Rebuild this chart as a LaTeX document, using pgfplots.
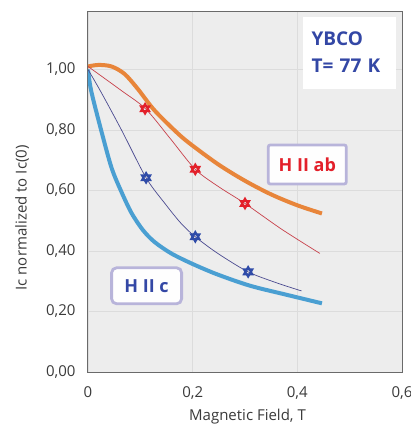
\documentclass[border=0pt]{standalone}
\usepackage{pgfplots}
\pgfplotsset{compat=1.18}
\usepackage{fontspec}
\setmainfont{Open Sans}
\definecolor{bgc}{HTML}{EDEDED}
\definecolor{gridc}{HTML}{DCDCDC}
\definecolor{axc}{HTML}{6A6A6A}
\definecolor{tickc}{HTML}{3A3A3A}
\definecolor{orangec}{HTML}{E8853A}
\definecolor{lbluec}{HTML}{4A9FD2}
\definecolor{redm}{HTML}{E3202A}
\definecolor{bluem}{HTML}{2F4BA8}
\definecolor{redl}{HTML}{C8404A}
\definecolor{bluel}{HTML}{4A4A90}
\definecolor{boxc}{HTML}{B8B4DA}
\definecolor{txtb}{HTML}{3347A5}
\begin{document}
\begin{tikzpicture}
\useasboundingbox (-88pt,-56pt) rectangle (323pt,372pt);
\begin{axis}[
    scale only axis,
    width=314pt, height=360pt,
    xmin=0, xmax=0.6, ymin=0, ymax=1.19,
    axis background/.style={fill=bgc},
    grid=major,
    major grid style={gridc, line width=0.8pt},
    axis line style={axc, line width=1pt},
    tick style={draw=none},
    xtick={0,0.2,0.4,0.6},
    ytick={0,0.2,0.4,0.6,0.8,1.0},
    tick label style={font=\fontsize{15}{17}\selectfont, text=tickc},
    /pgf/number format/assume math mode=true,
    xticklabel style={/pgf/number format/.cd, fixed, precision=1, use comma},
    yticklabel style={/pgf/number format/.cd, fixed, fixed zerofill, precision=2, use comma},
    yticklabel shift=9pt,
    xticklabel shift=11pt,
    xlabel={Magnetic Field, T},
    ylabel={Ic normalized to Ic(0)},
    label style={font=\fontsize{15}{17}\selectfont, text=tickc},
    xlabel style={at={(axis description cs:0.508,-0.125)}, anchor=center},
    ylabel style={at={(axis description cs:-0.21,0.428)}, anchor=center},
]
% thick model curves
\addplot[orangec, line width=4pt, smooth, tension=0.5] coordinates {
    (0,1.01) (0.02,1.015) (0.045,1.01) (0.07,0.985) (0.0955,0.935)
    (0.127,0.865) (0.172,0.788) (0.20,0.748) (0.25,0.685)
    (0.30,0.632) (0.35,0.587) (0.40,0.551) (0.447,0.524)
};
\addplot[lbluec, line width=4pt, smooth, tension=0.5] coordinates {
    (0,1.0) (0.006,0.93) (0.025,0.80) (0.045,0.675) (0.064,0.595)
    (0.083,0.526) (0.105,0.469) (0.127,0.43) (0.159,0.392)
    (0.20,0.357) (0.248,0.322) (0.31,0.285) (0.38,0.255) (0.447,0.227)
};
% thin fit lines
\addplot[redl, line width=0.7pt, smooth, tension=0.5] coordinates {
    (0,1.01) (0.064,0.93) (0.11,0.87) (0.157,0.772) (0.205,0.67)
    (0.25,0.612) (0.30,0.557) (0.37,0.472) (0.443,0.392)
};
\addplot[bluel, line width=0.7pt, smooth, tension=0.5] coordinates {
    (0,1.0) (0.025,0.925) (0.064,0.80) (0.111,0.642) (0.147,0.557)
    (0.178,0.491) (0.205,0.447) (0.248,0.392) (0.306,0.331)
    (0.36,0.295) (0.408,0.268)
};
% measured points (hexagram marks)
\addplot[only marks, redm, mark=triangle, mark size=4.8pt,
    mark options={line width=2pt}] coordinates {
    (0.109,0.87) (0.205,0.67) (0.30,0.557)
};
\addplot[only marks, redm, mark=triangle, mark size=4.8pt,
    mark options={line width=2pt, rotate=180}] coordinates {
    (0.109,0.87) (0.205,0.67) (0.30,0.557)
};
\addplot[only marks, bluem, mark=triangle, mark size=4.8pt,
    mark options={line width=2pt}] coordinates {
    (0.111,0.642) (0.205,0.447) (0.306,0.331)
};
\addplot[only marks, bluem, mark=triangle, mark size=4.8pt,
    mark options={line width=2pt, rotate=180}] coordinates {
    (0.111,0.642) (0.205,0.447) (0.306,0.331)
};
% annotation boxes
\node[fill=white, inner sep=0pt, minimum width=93pt, minimum height=72pt,
    text=txtb, font=\bfseries\fontsize{19}{27}\selectfont, align=left,
    text width=76pt] at (axis cs:0.4997,1.056) {YBCO\\T= 77 K};
\node[draw=boxc, line width=2.8pt, fill=white!96!bgc, rounded corners=2pt,
    minimum width=78pt, minimum height=39pt, inner sep=0pt,
    text=redm, font=\bfseries\fontsize{18}{20}\selectfont]
    at (axis cs:0.419,0.686) {H II ab};
\node[draw=boxc, line width=2.8pt, fill=white!96!bgc, rounded corners=5pt,
    minimum width=70pt, minimum height=36pt, inner sep=0pt,
    text=txtb, font=\bfseries\fontsize{18}{20}\selectfont]
    at (axis cs:0.112,0.285) {H II c};
\end{axis}
\end{tikzpicture}
\end{document}
